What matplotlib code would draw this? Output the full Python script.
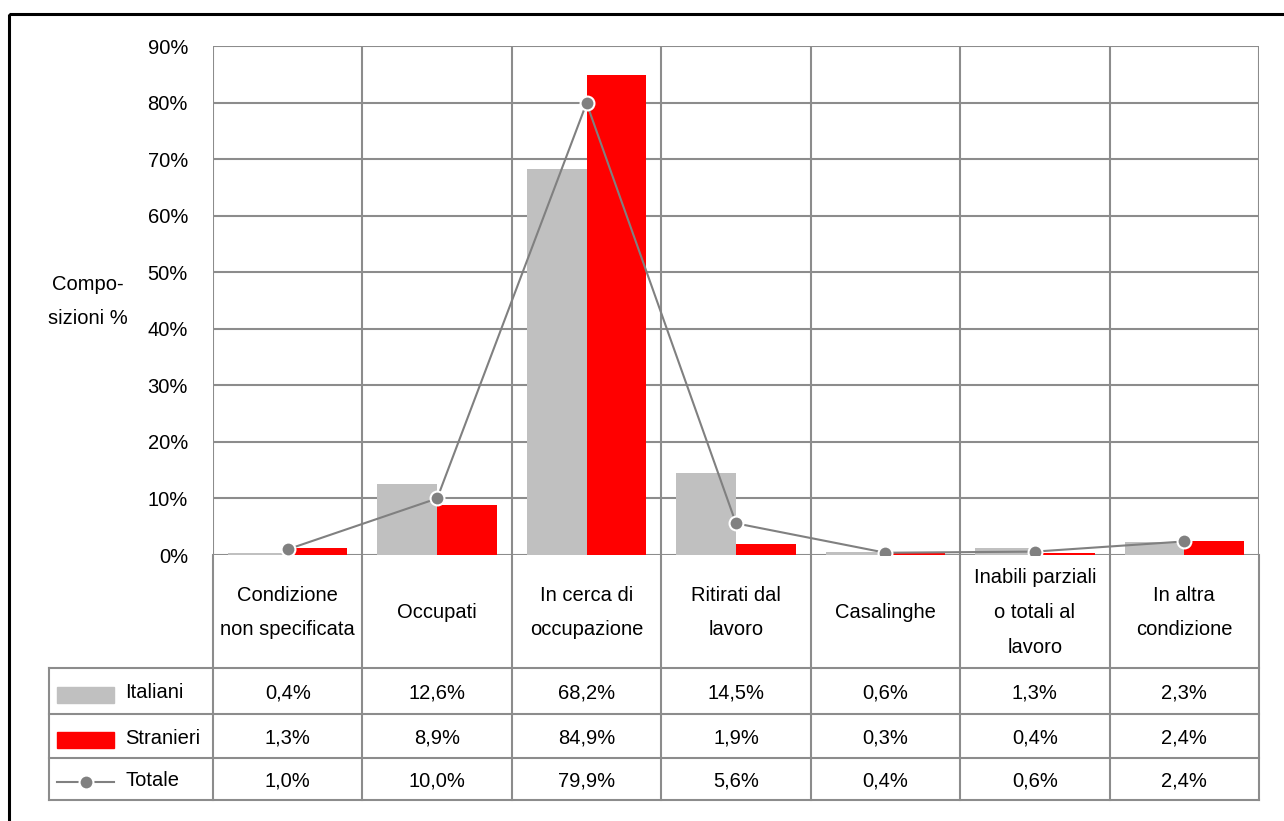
import matplotlib.pyplot as plt
import numpy as np
from matplotlib.patches import Rectangle
from matplotlib.lines import Line2D
from matplotlib import font_manager

# font: narrow sans if available
names = {f.name for f in font_manager.fontManager.ttflist}
if 'Liberation Sans Narrow' in names:
    plt.rcParams['font.family'] = ['Liberation Sans Narrow', 'DejaVu Sans']
else:
    plt.rcParams['font.family'] = ['Liberation Sans', 'DejaVu Sans']

categories = ["Condizione\nnon specificata", "Occupati", "In cerca di\noccupazione",
              "Ritirati dal\nlavoro", "Casalinghe", "Inabili parziali\no totali al\nlavoro",
              "In altra\ncondizione"]
italiani = [0.4, 12.6, 68.2, 14.5, 0.6, 1.3, 2.3]
stranieri = [1.3, 8.9, 84.9, 1.9, 0.3, 0.4, 2.4]
totale = [1.0, 10.0, 79.9, 5.6, 0.4, 0.6, 2.4]
series_names = ["Italiani", "Stranieri", "Totale"]
yticks = [0, 10, 20, 30, 40, 50, 60, 70, 80, 90]

W, H = 1284, 821
grid_c = '#8c8c8c'
gray = '#c0c0c0'
red = '#ff0000'
line_c = '#808080'
fs = 14.5

fig = plt.figure(figsize=(W / 100, H / 100), dpi=100)

# chart area in pixels
px_l, px_r, px_t, px_b = 213, 1259, 46, 555
ax = fig.add_axes([px_l / W, 1 - px_b / H, (px_r - px_l) / W, (px_b - px_t) / H])
n = len(categories)
x = np.arange(n)
ax.bar(x - 0.2, italiani, width=0.4, color=gray, zorder=2)
ax.bar(x + 0.2, stranieri, width=0.4, color=red, zorder=2)
ax.plot(x, totale, color=line_c, lw=1.5, marker='o', markersize=10,
        markerfacecolor=line_c, markeredgecolor='white', markeredgewidth=1.5, zorder=3)
ax.set_xlim(-0.5, n - 0.5)
ax.set_ylim(0, 90)
ax.set_yticks(yticks)
ax.set_yticklabels([f"{v}%" for v in yticks], fontsize=fs)
ax.tick_params(axis='y', length=0, pad=18)
ax.set_xticks([])
for v in yticks:
    ax.axhline(v, color=grid_c, lw=1.5, zorder=1)
for b in np.arange(-0.5, n, 1.0):
    ax.axvline(b, color=grid_c, lw=1.5, zorder=1)
for s in ax.spines.values():
    s.set_visible(False)

fig.text(88 / W, 1 - 301 / H, "Compo-\nsizioni %", ha='center', va='center',
         fontsize=fs, linespacing=2.0)

# data table drawn in pixel coordinates
tx = fig.add_axes([0, 0, 1, 1])
tx.set_xlim(0, W)
tx.set_ylim(H, 0)
tx.axis('off')

colw = (px_r - px_l) / n
row_y = [555, 668, 714, 758, 800]
tab_l = 49

def hline(y, x0, x1):
    tx.add_line(Line2D([x0, x1], [y, y], color=grid_c, lw=1.5))

def vline(xp, y0, y1):
    tx.add_line(Line2D([xp, xp], [y0, y1], color=grid_c, lw=1.5))

for y in row_y[1:]:
    hline(y, tab_l, px_r)
vline(tab_l, row_y[1], row_y[-1])
for i in range(n + 1):
    vline(px_l + i * colw, row_y[0], row_y[-1])

for i, c in enumerate(categories):
    tx.text(px_l + (i + 0.5) * colw, (row_y[0] + row_y[1]) / 2 + 1, c, ha='center',
            va='center', fontsize=fs, linespacing=2.05)

for r, vals in enumerate([italiani, stranieri, totale]):
    yc = (row_y[r + 1] + row_y[r + 2]) / 2 + 2
    for i, v in enumerate(vals):
        tx.text(px_l + (i + 0.5) * colw, yc, f"{v:.1f}%".replace('.', ','),
                ha='center', va='center', fontsize=fs)
    tx.text(125, yc, series_names[r], ha='left', va='center', fontsize=fs)

# legend keys
y1 = (row_y[1] + row_y[2]) / 2 + 4
tx.add_patch(Rectangle((57, y1 - 8), 57, 16, color=gray))
y2 = (row_y[2] + row_y[3]) / 2 + 4
tx.add_patch(Rectangle((57, y2 - 8), 57, 16, color=red))
y3 = (row_y[3] + row_y[4]) / 2 + 3
tx.add_line(Line2D([57, 114], [y3, y3], color=line_c, lw=1.5))
tx.plot([85.5], [y3], marker='o', markersize=10, color=line_c,
        markeredgecolor='white', markeredgewidth=1.5)

# outer frame (cut off at right and bottom)
tx.add_patch(Rectangle((9, 14), W + 20, H + 20, fill=False, edgecolor='black', lw=2.2))

fig.savefig("out.png", dpi=100)
